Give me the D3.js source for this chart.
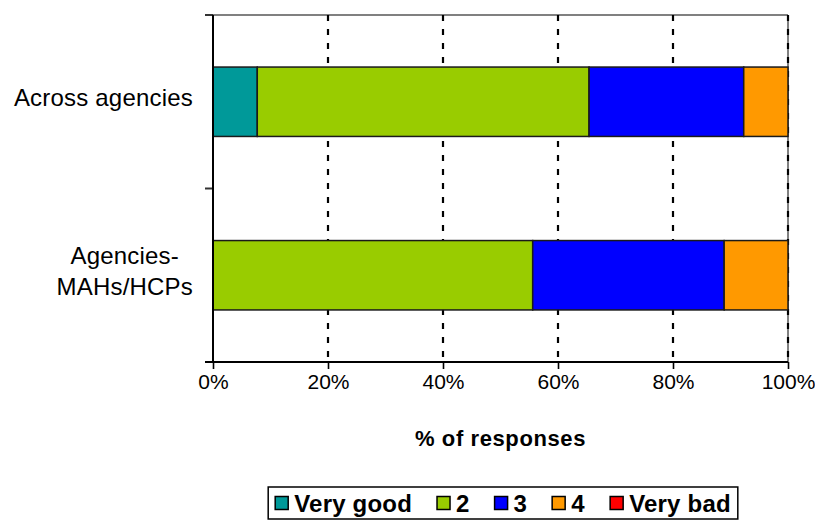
<!DOCTYPE html>
<html>
<head>
<meta charset="utf-8">
<script src="https://cdn.jsdelivr.net/npm/d3@7"></script>
<style>
  body { margin: 0; background: #fff; }
  svg { display: block; font-family: "Liberation Sans", Arial, sans-serif; }
</style>
</head>
<body>
<svg id="chart" width="815" height="521"></svg>
<script>
// Survey ratings, share of responses per group
const categories = ["Across agencies", "Agencies-\nMAHs/HCPs"];
const seriesNames = ["Very good", "2", "3", "4", "Very bad"];
const seriesColors = ["#009999", "#99CC00", "#0000FF", "#FF9900", "#FF0000"];
// proportions, one array per series, aligned with categories
const veryGood = [0.077, 0.0];
const two      = [0.577, 0.556];
const three    = [0.269, 0.333];
const four     = [0.077, 0.111];
const veryBad  = [0.0, 0.0];
const xTicks = [0, 0.2, 0.4, 0.6, 0.8, 1.0];

const series = [veryGood, two, three, four, veryBad];

const svg = d3.select("#chart");
const margin = { left: 213, right: 27, top: 15, bottom: 159 };
const W = 815, H = 521;
const x0 = margin.left, x1 = W - margin.right;
const y0 = margin.top, y1 = H - margin.bottom;

const x = d3.scaleLinear().domain([0, 1]).range([x0, x1]);
const y = d3.scaleBand().domain(categories).range([y0, y1]).paddingInner(0.6).paddingOuter(0.3);

// rows for stacking
const rows = categories.map((c, i) => {
  const r = { cat: c };
  seriesNames.forEach((s, k) => r[s] = series[k][i]);
  return r;
});
const stacked = d3.stack().keys(seriesNames)(rows);

// plot frame (top and right edges)
svg.append("line").attr("x1", x0 - 8).attr("x2", x1).attr("y1", y0).attr("y2", y0)
  .attr("stroke", "#808080").attr("stroke-width", 2);
svg.append("line").attr("x1", x1).attr("x2", x1).attr("y1", y0).attr("y2", y1)
  .attr("stroke", "#808080").attr("stroke-width", 2);

// vertical dashed gridlines
svg.append("g").selectAll("line").data(xTicks.slice(1)).join("line")
  .attr("x1", d => x(d)).attr("x2", d => x(d))
  .attr("y1", y0).attr("y2", y1)
  .attr("stroke", "#000").attr("stroke-width", 2.2)
  .attr("stroke-dasharray", "6,8");

// stacked bars
svg.append("g").selectAll("g").data(stacked).join("g")
  .attr("fill", (d, i) => seriesColors[i])
  .selectAll("rect").data(d => d.filter(p => p[1] - p[0] > 0)).join("rect")
  .attr("x", d => x(d[0]))
  .attr("width", d => x(d[1]) - x(d[0]))
  .attr("y", d => y(d.data.cat))
  .attr("height", y.bandwidth())
  .attr("stroke", "#1a1a1a").attr("stroke-width", 1.5);

// y axis: category boundary ticks
const bounds = [y0, (y0 + y1) / 2, y1];
svg.append("g").selectAll("line").data(bounds).join("line")
  .attr("x1", x0 - 8).attr("x2", x0).attr("y1", d => d).attr("y2", d => d)
  .attr("stroke", "#333").attr("stroke-width", 2);
svg.append("line").attr("x1", x0).attr("x2", x0).attr("y1", y0).attr("y2", y1 + 1)
  .attr("stroke", "#000").attr("stroke-width", 2);

// x axis
const xAxis = d3.axisBottom(x).tickValues(xTicks).tickFormat(d3.format(".0%"))
  .tickSize(7).tickPadding(5);
const gx = svg.append("g").attr("transform", `translate(0,${y1})`).call(xAxis);
gx.select(".domain").attr("stroke", "#000").attr("stroke-width", 2)
  .attr("d", `M${x0 - 8},0H${x1}`);
gx.selectAll(".tick line").attr("stroke", "#000").attr("stroke-width", 1.6);
gx.selectAll(".tick text").attr("font-size", 21).attr("fill", "#000")
  .attr("font-family", "'Liberation Sans', Arial, sans-serif");

// category labels, centred lines, right edge near the axis
const labelRight = 193;
categories.forEach(c => {
  const lines = c.split("\n");
  const cy = y(c) + y.bandwidth() / 2 - 4;
  const lh = 31;
  const t = svg.append("text").attr("font-size", 24).attr("fill", "#000")
    .attr("letter-spacing", 0.2).attr("text-anchor", "middle");
  lines.forEach((ln, i) => {
    t.append("tspan").attr("x", 0)
      .attr("y", cy + (i - (lines.length - 1) / 2) * lh)
      .attr("dy", "0.36em").text(ln);
  });
  let maxW = 0;
  t.selectAll("tspan").each(function () { maxW = Math.max(maxW, this.getComputedTextLength()); });
  t.selectAll("tspan").attr("x", labelRight - maxW / 2);
});

// axis title
svg.append("text").attr("x", (x0 + x1) / 2).attr("y", 446)
  .attr("text-anchor", "middle").attr("font-size", 22).attr("font-weight", "bold")
  .attr("letter-spacing", 0.6).text("% of responses");

// legend
const sw = 13;
const lg = svg.append("g");
const items = lg.selectAll("g").data(seriesNames).join("g");
items.append("rect").attr("y", -sw / 2).attr("width", sw).attr("height", sw)
  .attr("fill", (d, i) => seriesColors[i]).attr("stroke", "#000").attr("stroke-width", 1.5);
items.append("text").attr("x", sw + 6).attr("y", 0).attr("dy", "0.36em")
  .attr("font-size", 24).attr("font-weight", "bold").attr("letter-spacing", 0.2).text(d => d);
let cx = 0;
const itemGap = 25;
items.each(function () {
  d3.select(this).attr("transform", `translate(${cx},0)`);
  cx += this.getBBox().width + itemGap;
});
const totalW = cx - itemGap;
const boxPad = 7, boxW = totalW + boxPad * 2, boxH = 32;
const bx = 503 - boxW / 2, by = 487;
lg.insert("rect", ":first-child")
  .attr("x", -boxPad).attr("y", -boxH / 2).attr("width", boxW).attr("height", boxH)
  .attr("fill", "#fff").attr("stroke", "#000").attr("stroke-width", 1.5);
lg.attr("transform", `translate(${bx + boxPad},${by + boxH / 2})`);
</script>
</body>
</html>
